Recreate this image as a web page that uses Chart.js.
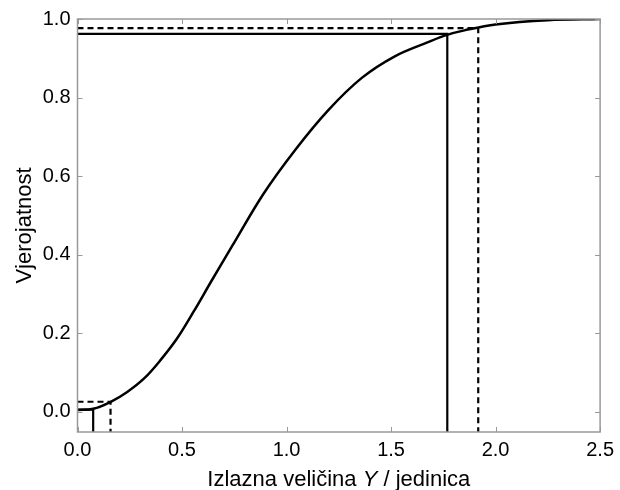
<!DOCTYPE html>
<html><head><meta charset="utf-8">
<script src="https://cdn.jsdelivr.net/npm/chart.js@4"></script>
<style>html,body{margin:0;padding:0;background:#fff}#wrap{width:620px;height:490px}</style>
</head><body><div id="wrap"><canvas id="c" width="620" height="490"></canvas></div>
<script>
const curveX = [0, 0.075, 0.159, 0.238, 0.320, 0.397, 0.476, 0.556, 0.640, 0.740, 0.890, 1.045, 1.200, 1.360, 1.518, 1.677, 1.764, 1.851, 2.0, 2.25, 2.5];
const curveY = [0.004, 0.007, 0.025, 0.050, 0.085, 0.131, 0.186, 0.255, 0.332, 0.422, 0.555, 0.669, 0.768, 0.850, 0.905, 0.941, 0.959, 0.971, 0.986, 0.997, 1.0];
const shortestLow = [0.075, 0.005];
const shortestHigh = [1.769, 0.962];
const symLow = [0.158, 0.025];
const symHigh = [1.917, 0.977];
const xTicks = [0, 0.5, 1.0, 1.5, 2.0, 2.5];
const yTicks = [0, 0.2, 0.4, 0.6, 0.8, 1.0];
const xRange = [0, 2.5];
const yRange = [-0.052, 1.0];
const xTitleParts = ['Izlazna veličina ', 'Y', ' / jedinica'];
const yTitle = 'Vjerojatnost';

const curve = curveX.map((x, i) => ({x, y: curveY[i]}));
function bracket(p) {
  return [{x: xRange[0], y: p[1]}, {x: p[0], y: p[1]}, {x: p[0], y: yRange[0]}];
}
const FAM = 'Liberation Sans, Arial, sans-serif';

const frame = {
  id: 'frame',
  afterDatasetsDraw(chart) {
    const {ctx, chartArea: a, scales: {x, y}} = chart;
    ctx.save();
    ctx.strokeStyle = '#999';
    ctx.lineWidth = 1.5;
    ctx.strokeRect(a.left, a.top, a.right - a.left, a.bottom - a.top);
    ctx.lineWidth = 1;
    ctx.beginPath();
    const L = 5;
    xTicks.forEach(v => {
      const px = Math.round(x.getPixelForValue(v)) + 0.5;
      ctx.moveTo(px, a.bottom); ctx.lineTo(px, a.bottom - L);
      ctx.moveTo(px, a.top); ctx.lineTo(px, a.top + L);
    });
    yTicks.forEach(v => {
      const py = Math.round(y.getPixelForValue(v)) + 0.5;
      ctx.moveTo(a.left, py); ctx.lineTo(a.left + L, py);
      ctx.moveTo(a.right, py); ctx.lineTo(a.right - L, py);
    });
    ctx.stroke();
    // x-axis title with italic symbol
    const fonts = ['22px ' + FAM, 'italic 22px ' + FAM, '22px ' + FAM];
    const widths = xTitleParts.map((t, i) => { ctx.font = fonts[i]; return ctx.measureText(t).width; });
    const total = widths.reduce((s, w) => s + w, 0);
    let cx = (a.left + a.right) / 2 - total / 2;
    ctx.fillStyle = '#000';
    ctx.textBaseline = 'alphabetic';
    ctx.textAlign = 'left';
    xTitleParts.forEach((t, i) => { ctx.font = fonts[i]; ctx.fillText(t, cx, 486); cx += widths[i]; });
    ctx.restore();
  }
};

const font = {family: FAM, size: 20};
new Chart(document.getElementById('c'), {
  type: 'scatter',
  data: {
    datasets: [
      {data: curve, showLine: true, borderColor: '#000', borderWidth: 2.5, pointRadius: 0, tension: 0.35},
      {data: bracket(shortestLow), showLine: true, borderColor: '#000', borderWidth: 2.2, pointRadius: 0},
      {data: bracket(shortestHigh), showLine: true, borderColor: '#000', borderWidth: 2.2, pointRadius: 0},
      {data: bracket(symLow), showLine: true, borderColor: '#000', borderWidth: 2.2, borderDash: [6, 4], pointRadius: 0},
      {data: bracket(symHigh), showLine: true, borderColor: '#000', borderWidth: 2.2, borderDash: [6, 4], pointRadius: 0}
    ]
  },
  options: {
    responsive: false,
    animation: false,
    layout: {padding: {top: 19, right: 17, left: 0, bottom: 0}},
    plugins: {legend: {display: false}, tooltip: {enabled: false}},
    scales: {
      x: {
        type: 'linear', min: xRange[0], max: xRange[1],
        grid: {display: false, drawTicks: false}, border: {display: false},
        afterBuildTicks: s => { s.ticks = xTicks.map(v => ({value: v})); },
        afterFit: s => { s.height = 58; },
        ticks: {color: '#000', font, padding: 6, maxRotation: 0, callback: v => v.toFixed(1)}
      },
      y: {
        type: 'linear', min: yRange[0], max: yRange[1],
        grid: {display: false, drawTicks: false}, border: {display: false},
        afterBuildTicks: s => { s.ticks = yTicks.map(v => ({value: v})); },
        afterFit: s => { s.width = 77.5; },
        ticks: {color: '#000', font, padding: 7, callback: v => v.toFixed(1)},
        title: {display: true, text: yTitle, color: '#000', font: {family: FAM, size: 22}, padding: {top: 12, bottom: 0}}
      }
    }
  },
  plugins: [frame]
});
</script></body></html>
